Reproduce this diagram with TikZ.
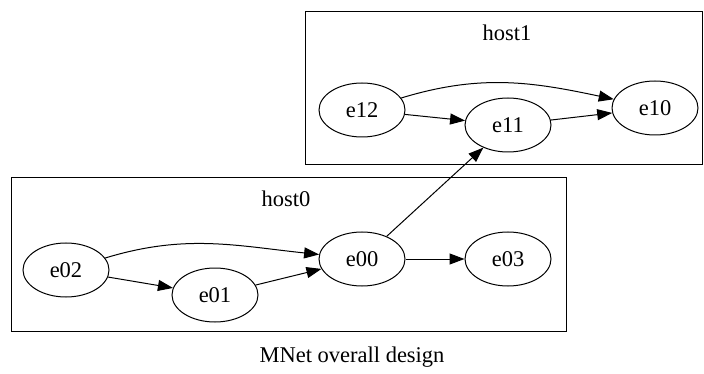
\documentclass[tikz,border=0pt]{standalone}
\usepackage{fontspec}
\setmainfont{Liberation Serif}
\usetikzlibrary{shapes.geometric,arrows.meta}
\begin{document}
\begin{tikzpicture}[x=1pt,y=-1pt,
  every node/.style={font=\fontsize{22.5}{27}\selectfont},
  ell/.style={draw,ellipse,minimum width=86pt,minimum height=54pt,inner sep=0pt,line width=1pt},
  clust/.style={draw,line width=1pt},
  edge/.style={draw,line width=1pt,-{Triangle[length=15pt,width=11pt]}}]
\useasboundingbox (0,0) rectangle (704,374);
% clusters
\draw[clust] (305,12) rectangle (702,165);
\node (h1) at (507,33) {host1};
\draw[clust] (11,178) rectangle (566,331);
\node (h0) at (286,199) {host0};
% nodes
\node[ell] (e12) at (362,110) {e12};
\node[ell] (e11) at (508,125) {e11};
\node[ell] (e10) at (655,108) {e10};
\node[ell] (e02) at (66,270) {e02};
\node[ell] (e01) at (215,295) {e01};
\node[ell] (e00) at (362,259) {e00};
\node[ell] (e03) at (508,259) {e03};
% edges
\draw[edge] (e12) to[out=17,in=168] (e10);
\draw[edge] (e12) -- (e11);
\draw[edge] (e11) -- (e10);
\draw[edge] (e00) -- (e11);
\draw[edge] (e02) to[out=17,in=174] (e00);
\draw[edge] (e02) -- (e01);
\draw[edge] (e01) -- (e00);
\draw[edge] (e00) -- (e03);
\node (cap) at (352,357) {MNet overall design};
\end{tikzpicture}
\end{document}
